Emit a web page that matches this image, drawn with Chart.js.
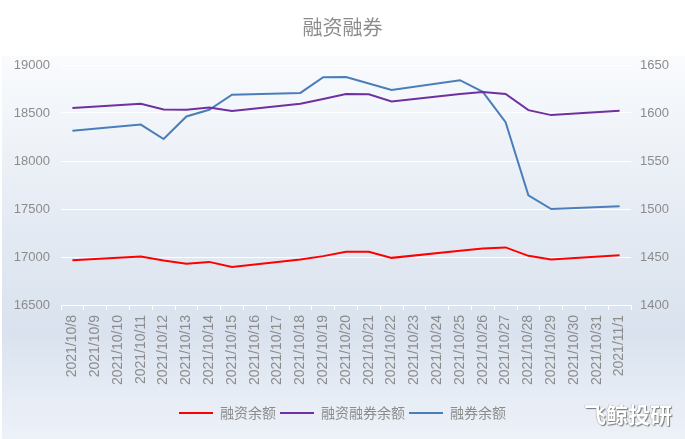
<!DOCTYPE html>
<html>
<head>
<meta charset="utf-8">
<script src="https://cdn.jsdelivr.net/npm/chart.js@4.4.0/dist/chart.umd.min.js"></script>
<style>
html,body{margin:0;padding:0;background:#fff;}
#wrap{position:relative;width:685px;height:439px;overflow:hidden;}
#bg{position:absolute;left:2px;top:56px;width:683px;height:383px;
background:linear-gradient(to bottom,#f9fbfd 0%,#e4eaf3 45%,#d9e2ee 72%,#e6ecf5 88%,#edf1f8 100%);}
#c{position:absolute;left:0;top:0;}
#wm{position:absolute;left:584px;top:401px;font-family:"Noto Sans CJK SC";font-weight:bold;font-size:22px;color:#fff;
text-shadow:1px 1px 1px #777, -0.5px 0 1px #aaa;letter-spacing:0px;line-height:24px;}
</style>
</head>
<body>
<div id="wrap">
<div id="bg"></div>
<canvas id="c" width="685" height="439"></canvas>
<div id="wm">飞鲸投研</div>
</div>
<script>
const categories = ["2021/10/8","2021/10/9","2021/10/10","2021/10/11","2021/10/12","2021/10/13","2021/10/14","2021/10/15","2021/10/16","2021/10/17","2021/10/18","2021/10/19","2021/10/20","2021/10/21","2021/10/22","2021/10/23","2021/10/24","2021/10/25","2021/10/26","2021/10/27","2021/10/28","2021/10/29","2021/10/30","2021/10/31","2021/11/1"];
// null = non-trading day (line spans across)
const financing = [16967,null,null,17005,16963,16931,16949,16896,null,null,16973,17009,17054,17054,16991,null,null,17065,17089,17100,17012,16973,null,null,17019];
const marginTotal = [18551,null,null,18597,18537,18534,18558,18520,null,null,18597,18646,18697,18695,18621,null,null,18698,18720,18698,18530,18478,null,null,18523];
const shortSelling = [1581.6,null,null,1587.9,1572.9,1596.4,1603.4,1619.1,null,null,1620.9,1637.2,1637.5,1630.7,1624.0,null,null,1634.2,1622.0,1590.4,1514.3,1500.0,null,null,1502.8];
const leftTicks = [16500,17000,17500,18000,18500,19000];
const rightTicks = [1400,1450,1500,1550,1600,1650];
const seriesNames = ["融资余额","融资融券余额","融券余额"];
const colors = ["#ff0000","#7030a0","#4a7ebb"];

const tickColor = "#8c8c8c";
const fam = "'Liberation Sans', Arial, sans-serif";

new Chart(document.getElementById('c'), {
  type: 'line',
  data: {
    labels: categories,
    datasets: [
      {label: seriesNames[0], data: financing, yAxisID: 'y', borderColor: colors[0], backgroundColor: colors[0]},
      {label: seriesNames[1], data: marginTotal, yAxisID: 'y', borderColor: colors[1], backgroundColor: colors[1]},
      {label: seriesNames[2], data: shortSelling, yAxisID: 'y1', borderColor: colors[2], backgroundColor: colors[2]}
    ]
  },
  options: {
    responsive: false,
    animation: false,
    spanGaps: true,
    elements: {
      line: {borderWidth: 2, tension: 0},
      point: {radius: 0, hoverRadius: 0}
    },
    layout: {padding: {top: 0, left: 0, right: 0, bottom: 9}},
    plugins: {
      tooltip: {enabled: false},
      title: {
        display: true,
        text: '融资融券',
        color: '#8c8c8c',
        font: {family: "'Noto Sans CJK SC'", size: 20, weight: 'normal'},
        padding: {top: 15, bottom: 26}
      },
      legend: {
        position: 'bottom',
        labels: {
          color: '#8c8c8c',
          font: {family: "'Noto Sans CJK SC'", size: 14},
          boxWidth: 34,
          boxHeight: 2,
          padding: 4,
          generateLabels(chart) {
            return chart.data.datasets.map((d, i) => ({
              text: d.label, fillStyle: d.borderColor, strokeStyle: d.borderColor,
              lineWidth: 0, fontColor: '#8c8c8c', datasetIndex: i, hidden: false
            }));
          }
        }
      }
    },
    scales: {
      x: {
        offset: true,
        grid: {display: true, drawOnChartArea: false, drawTicks: true, tickLength: 5, color: '#ffffff', offset: true},
        border: {display: true, color: '#ffffff', width: 1},
        ticks: {color: tickColor, font: {family: fam, size: 14}, minRotation: 90, maxRotation: 90, autoSkip: false, padding: 5},
        afterFit(s) { s.height = 97; }
      },
      y: {
        position: 'left',
        min: 16500, max: 19000,
        afterBuildTicks(s) { s.ticks = leftTicks.map(v => ({value: v})); },
        grid: {color: '#ffffff', lineWidth: 1, drawTicks: false},
        border: {display: false},
        ticks: {color: tickColor, font: {family: fam, size: 13}, padding: 11, callback: v => String(v)},
        afterFit(s) { s.width = 61; }
      },
      y1: {
        position: 'right',
        min: 1400, max: 1650,
        afterBuildTicks(s) { s.ticks = rightTicks.map(v => ({value: v})); },
        grid: {display: false, drawTicks: false},
        border: {display: false},
        ticks: {color: tickColor, font: {family: fam, size: 13}, padding: 9, callback: v => String(v)},
        afterFit(s) { s.width = 54; }
      }
    }
  }
});
</script>
</body>
</html>
